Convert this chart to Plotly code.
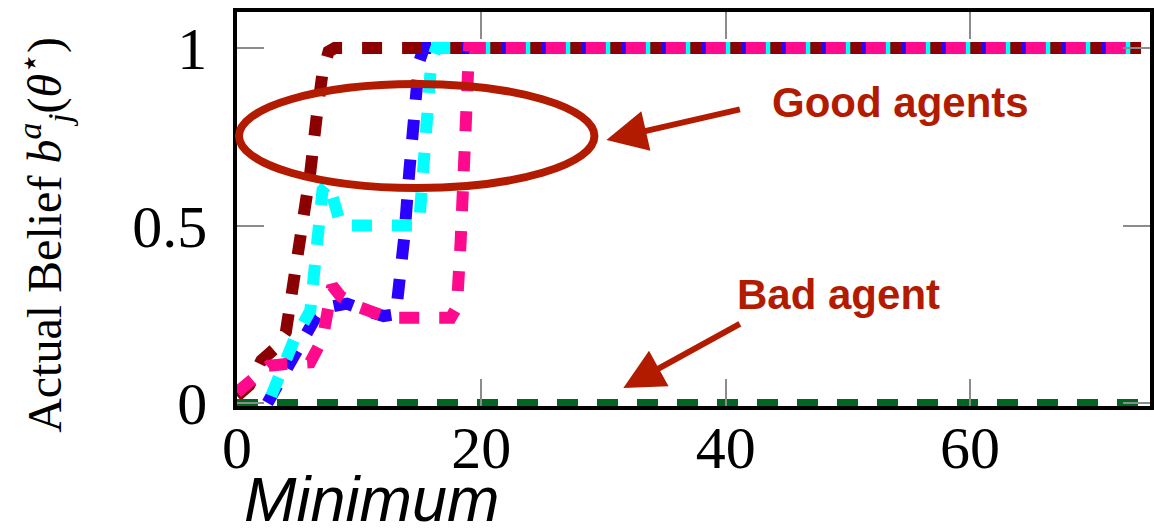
import plotly.graph_objects as go

# ---------------- data ----------------
red_t = [0, 1, 2, 3, 4, 4.5, 5, 5.5, 6, 6.5, 7, 7.5, 8, 74]
red_v = [0.02, 0.05, 0.12, 0.15, 0.2, 0.3, 0.42, 0.52, 0.65, 0.8, 0.93, 0.99, 1.0, 1.0]

blue_t = [2.5, 3.5, 4.5, 5.5, 6.5, 7.5, 9, 10.5, 12, 13, 13.3, 13.7, 14.1, 14.5, 14.9, 15.3, 74]
blue_v = [0.0, 0.06, 0.12, 0.19, 0.245, 0.27, 0.28, 0.26, 0.245, 0.25, 0.33, 0.47, 0.65, 0.82, 0.96, 1.0, 1.0]

cyan_t = [2.8, 3.5, 4.7, 6.0, 6.3, 6.6, 7.0, 7.5, 8.0, 8.5, 14.9, 15.1, 15.4, 15.6, 15.9, 16.3, 74]
cyan_v = [0.02, 0.08, 0.18, 0.26, 0.38, 0.5, 0.6, 0.62, 0.55, 0.5, 0.5, 0.62, 0.73, 0.84, 0.96, 1.0, 1.0]

pink_t = [0, 1, 2, 2.6, 4, 6, 7, 7.5, 7.8, 8.5, 10, 12, 13, 17.5, 18, 18.3, 18.6, 19, 74]
pink_v = [0.03, 0.06, 0.09, 0.105, 0.11, 0.115, 0.18, 0.28, 0.33, 0.3, 0.27, 0.245, 0.24, 0.24, 0.27, 0.45, 0.7, 1.0, 1.0]

green_t = [0, 74]
green_v = [0.0, 0.0]

x_ticks = [0, 20, 40, 60]
y_ticks = [0, 0.5, 1]
y_tick_text = ["0", "0.5", "1"]

RED = "#B31B00"

fig = go.Figure()

series = [
    (blue_t, blue_v, "#2A00FF", 12, "20px,20px"),
    (red_t, red_v, "#8B0000", 12, "20px,20px"),
    (cyan_t, cyan_v, "#00FFFF", 12, "20px,20px"),
    (pink_t, pink_v, "#FF0A8C", 12, "20px,20px"),
    (green_t, green_v, "#006622", 8, "21px,19px"),
]
for t, v, c, w, d in series:
    fig.add_trace(go.Scatter(x=t, y=v, mode="lines",
                             line=dict(color=c, width=w, dash=d),
                             showlegend=False, hoverinfo="skip"))

W, H = 1154, 529
L, R, T, B = 237, 0, 12, 123
pw, ph = W - L - R, H - T - B


def px(xp):
    return (xp - L) / pw


def py(yp):
    return (H - B - yp) / ph


# ellipse (paper coords)
fig.add_shape(type="circle", xref="paper", yref="paper",
              x0=px(239), x1=px(596), y0=py(188), y1=py(84),
              line=dict(color=RED, width=8))

serif = "Liberation Serif"
sans = "Liberation Sans"

fig.add_annotation(xref="paper", yref="paper", x=px(772), y=py(102.5),
                   xanchor="left", yanchor="middle", showarrow=False,
                   text="<b>Good agents</b>", font=dict(family=sans, size=42, color=RED))
fig.add_annotation(xref="paper", yref="paper", x=px(737), y=py(294),
                   xanchor="left", yanchor="middle", showarrow=False,
                   text="<b>Bad agent</b>", font=dict(family=sans, size=42, color=RED))

# arrows
fig.add_annotation(xref="paper", yref="paper", x=px(608), y=py(140),
                   ax=743 - 608, ay=109 - 140, text="", showarrow=True,
                   arrowhead=2, arrowsize=1.35, arrowwidth=6, arrowcolor=RED, standoff=0)
fig.add_annotation(xref="paper", yref="paper", x=px(625), y=py(388),
                   ax=743 - 625, ay=323 - 388, text="", showarrow=True,
                   arrowhead=2, arrowsize=1.35, arrowwidth=6, arrowcolor=RED, standoff=0)

fig.add_annotation(xref="paper", yref="paper", x=px(242), y=py(499.5),
                   xanchor="left", yanchor="middle", showarrow=False,
                   text="<i>Minimum</i>", font=dict(family=sans, size=63, color="black"))

fig.add_annotation(xref="paper", yref="paper", x=px(43), y=py(235),
                   xanchor="center", yanchor="middle", showarrow=False, textangle=-90,
                   text="Actual Belief <i>b</i><sup><i>a</i></sup><sub><i>j</i></sub>(<i>θ</i><sup>⋆</sup>)",
                   font=dict(family=serif, size=48, color="black"))

fig.update_layout(
    width=W, height=H,
    margin=dict(l=L, r=R, t=T, b=B, pad=0),
    paper_bgcolor="white", plot_bgcolor="white",
    xaxis=dict(range=[0, (W - L) / 12.27], tickvals=x_ticks, ticktext=[str(v) for v in x_ticks],
               showgrid=False, zeroline=False, showline=True, linecolor="black", linewidth=3.5,
               mirror="ticks", ticks="inside", ticklen=27, tickwidth=1.5, tickcolor="#8c8c8c",
               tickfont=dict(family=serif, size=60, color="black"), ticklabelstandoff=-14),
    yaxis=dict(range=[(403 - (H - B)) / 355, (403 - T) / 355], tickvals=y_ticks, ticktext=y_tick_text,
               showgrid=False, zeroline=False, showline=True, linecolor="black", linewidth=3.5,
               mirror="ticks", ticks="inside", ticklen=27, tickwidth=1.5, tickcolor="#8c8c8c",
               tickfont=dict(family=serif, size=60, color="black"), ticklabelstandoff=14),
)

fig.write_html("out.html")
